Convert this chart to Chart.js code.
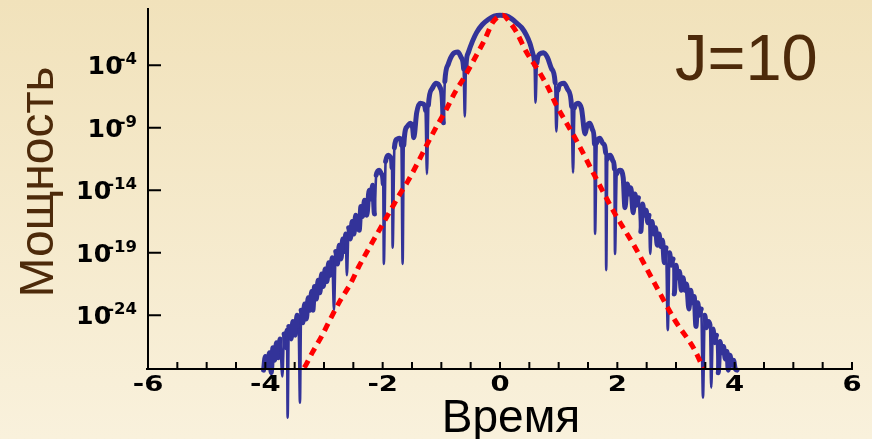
<!DOCTYPE html>
<html>
<head>
  <title>Мощность J=10</title>
  <script src="https://cdn.jsdelivr.net/npm/chart.js"></script>
  <style>
    body { margin: 0; }
    #chart { display: block; background: linear-gradient(#f1e2bb, #f9f1dc); }
  </style>
</head>
<body>
  <canvas id="chart" width="872" height="439"></canvas>
  <script>
    // blue curve: time and log10 of power
    const blueTime = [
      -4.03, -4.00, -3.96, -3.93, -3.90, -3.87, -3.84, -3.81, -3.78, -3.75, -3.71, -3.68, -3.65, -3.63,
      -3.62, -3.60, -3.56, -3.53, -3.49, -3.46, -3.43, -3.41, -3.39, -3.36, -3.33, -3.30, -3.27, -3.24,
      -3.21, -3.19, -3.16, -3.13, -3.10, -3.07, -3.04, -3.01, -2.98, -2.95, -2.92, -2.89, -2.86, -2.83,
      -2.80, -2.77, -2.74, -2.71, -2.68, -2.65, -2.63, -2.61, -2.58, -2.55, -2.52, -2.49, -2.46, -2.43,
      -2.40, -2.37, -2.34, -2.31, -2.27, -2.23, -2.20, -2.17, -2.14,
      -2.11, -2.06, -2.02, -1.99, -1.98, -1.95, -1.90, -1.86, -1.84, -1.83, -1.80, -1.75, -1.71, -1.68,
      -1.66, -1.64, -1.58, -1.53, -1.49, -1.47, -1.42, -1.36, -1.31, -1.27, -1.245, -1.22, -1.16, -1.09,
      -1.02, -0.985, -0.965, -0.94, -0.88, -0.80, -0.72, -0.66, -0.62, -0.60, -0.58, -0.54, -0.47, -0.40,
      -0.30, -0.20, -0.10, 0.00,
      0.10, 0.20, 0.30, 0.37, 0.45, 0.51, 0.56, 0.59, 0.605, 0.63, 0.68, 0.74, 0.81, 0.88, 0.94, 0.96,
      0.99, 1.04, 1.09, 1.16, 1.22, 1.245, 1.27, 1.33, 1.39, 1.45, 1.48, 1.53, 1.58, 1.61, 1.62, 1.65,
      1.70, 1.76, 1.80, 1.81, 1.83, 1.88, 1.93, 1.95, 1.96, 1.99, 2.05, 2.10,
      2.13, 2.17, 2.20, 2.23, 2.27, 2.30, 2.33, 2.36, 2.40, 2.43, 2.46, 2.49, 2.52, 2.54, 2.56, 2.59,
      2.62, 2.65, 2.68, 2.71, 2.74, 2.77, 2.80, 2.83, 2.86, 2.89, 2.92, 2.95, 2.97, 3.00, 3.03, 3.06,
      3.09, 3.12, 3.15, 3.18, 3.22, 3.25, 3.28, 3.31, 3.34, 3.37, 3.40, 3.43, 3.46, 3.49, 3.52, 3.55,
      3.58, 3.60, 3.63, 3.66, 3.69, 3.72, 3.75, 3.78, 3.81, 3.84, 3.87, 3.89, 3.92, 3.95, 3.98, 4.01,
      4.04
    ];
    const bluePowerExp = [
      -28.4, -27.3, -28.2, -27.0, -28.6, -26.6, -27.6, -26.2, -27.4, -25.9, -28.9, -25.5, -26.6, -25.2,
      -32.2, -24.9, -25.9, -24.5, -25.6, -24.0, -25.2, -31.0, -23.6, -24.6, -23.1, -24.3, -22.6, -23.6,
      -22.1, -23.6, -21.7, -22.7, -21.2, -22.2, -20.7, -21.7, -20.3, -21.3, -19.8, -20.8, -19.4, -23.6,
      -18.9, -19.9, -18.4, -19.5, -17.9, -18.9, -17.5, -20.8, -17.0, -17.9, -16.5, -17.5, -16.0, -16.9,
      -17.2, -15.3, -16.1, -14.8, -16.0, -14.0, -14.7, -13.6, -15.9,
      -12.8, -12.4, -12.7, -13.5, -19.9, -11.7, -11.2, -11.4, -12.2, -18.6, -10.6, -9.9, -9.85, -10.4,
      -19.9, -10.4, -8.9, -8.65, -9.0, -9.8, -7.8, -7.05, -7.1, -7.6, -12.7, -7.2, -5.9, -5.45,
      -5.8, -6.6, -8.6, -5.3, -3.9, -3.1, -2.95, -3.4, -4.3, -8.1, -4.1, -3.0, -2.1, -1.4,
      -0.75, -0.35, -0.08, 0.0,
      -0.05, -0.3, -0.7, -1.0, -1.6, -2.25, -3.1, -4.0, -7.0, -3.8, -3.1, -3.0, -3.4, -4.3, -5.4, -9.3,
      -6.0, -5.5, -5.45, -6.0, -7.3, -12.6, -7.4, -7.05, -7.5, -9.5, -8.9, -8.65, -9.2, -10.3, -17.5, -10.2,
      -9.85, -10.3, -11.0, -20.4, -11.5, -11.2, -11.7, -12.3, -19.1, -12.7, -12.4, -13.0,
      -15.4, -13.5, -14.3, -13.8, -15.8, -14.3, -15.2, -14.6, -17.3, -15.1, -16.0, -15.6, -16.6, -16.0, -19.1, -16.5,
      -17.5, -17.0, -18.4, -17.5, -18.5, -18.0, -19.8, -18.6, -25.2, -19.0, -20.0, -19.5, -22.3, -20.0, -21.0, -20.5,
      -22.0, -21.0, -22.0, -21.5, -23.5, -22.0, -23.0, -22.5, -24.9, -23.0, -24.0, -23.5, -30.6, -24.0, -25.0, -24.5,
      -24.8, -29.8, -25.1, -26.2, -25.6, -28.6, -26.1, -27.0, -26.5, -27.5, -26.9, -28.4, -27.2, -28.0, -27.6, -28.3,
      -28.4
    ];

    // red dashed curve
    const redTime = [
      -3.50, -3.35, -3.20, -3.03, -2.89, -2.72, -2.55, -2.41, -2.24, -2.07, -1.90, -1.73, -1.56,
      -1.39, -1.25, -1.08, -0.91, -0.77, -0.60, -0.43, -0.26, -0.12, 0.05, 0.17, 0.28, 0.45,
      0.65, 0.82, 0.96, 1.13, 1.30, 1.62, 1.96, 2.30, 2.64, 2.98, 3.32, 3.46, 3.55
    ];
    const redPowerExp = [
      -29.0, -28.3, -27.0, -25.6, -24.3, -22.8, -21.5, -20.15, -18.7, -17.3, -15.9, -14.5, -13.2,
      -11.7, -10.4, -8.9, -7.5, -6.2, -4.9, -3.45, -1.95, -0.55, 0.0, -0.6, -1.35, -2.95,
      -4.4, -5.8, -7.2, -8.6, -10.0, -12.9, -15.9, -18.55, -21.5, -24.4, -26.8, -28.2, -29.0
    ];

    const xTickLabels = [-6, -4, -2, 0, 2, 4, 6];
    const yTickExps = [-4, -9, -14, -19, -24];

    const toPoints = (t, e) => t.map((v, i) => ({ x: v, y: Math.pow(10, e[i]) }));

    function stretchText(ctx, text, x, y, align, sx) {
      ctx.save();
      ctx.translate(x, y);
      ctx.scale(sx, 1);
      ctx.textAlign = align;
      ctx.fillText(text, 0, 0);
      ctx.restore();
    }

    // thin the steep drops into the nulls
    function spikeWidth(c) {
      const d = Math.abs(Math.log10(c.p0.parsed.y) - Math.log10(c.p1.parsed.y));
      return d > 2.6 ? 2.6 : 5;
    }

    // axes, ticks and texts are drawn by hand on top of the plot
    const axesPlugin = {
      id: 'axes',
      afterDatasetsDraw(chart) {
        const { ctx, chartArea: a, scales } = chart;
        const xs = scales.x, ys = scales.y;
        ctx.save();
        ctx.strokeStyle = '#000';
        ctx.lineWidth = 2;
        ctx.beginPath();
        ctx.moveTo(a.left, a.top);
        ctx.lineTo(a.left, a.bottom);
        ctx.moveTo(a.left - 2, a.bottom);
        ctx.lineTo(a.right + 1, a.bottom);
        for (let v = -6; v <= 6.001; v += 0.5) {
          const px = xs.getPixelForValue(v);
          ctx.moveTo(px, a.bottom);
          ctx.lineTo(px, a.bottom - 7);
        }
        yTickExps.forEach(e => {
          const py = ys.getPixelForValue(Math.pow(10, e));
          ctx.moveTo(a.left, py);
          ctx.lineTo(a.left + 13, py);
        });
        ctx.stroke();

        ctx.fillStyle = '#000';
        ctx.textBaseline = 'alphabetic';
        ctx.font = 'bold 22px "DejaVu Sans"';
        xTickLabels.forEach(v => {
          stretchText(ctx, String(v), xs.getPixelForValue(v), a.bottom + 22, 'center', 1.25);
        });

        yTickExps.forEach(e => {
          const py = ys.getPixelForValue(Math.pow(10, e));
          const sup = String(e);
          ctx.font = 'bold 15px "DejaVu Sans"';
          const w = ctx.measureText(sup).width * 1.1;
          stretchText(ctx, sup, 137, py - 1, 'right', 1.1);
          ctx.font = 'bold 24px "DejaVu Sans"';
          stretchText(ctx, '10', 137 - w + 4, py + 9, 'right', 1.05);
        });

        ctx.font = '46px "Liberation Sans", Arial, sans-serif';
        ctx.textAlign = 'center';
        ctx.fillText('Время', 511, 432);

        ctx.fillStyle = '#4d2a0a';
        ctx.font = '65px "Liberation Sans", Arial, sans-serif';
        ctx.textAlign = 'left';
        ctx.fillText('J=10', 675, 80);

        ctx.save();
        ctx.translate(53, 182);
        ctx.rotate(-Math.PI / 2);
        ctx.font = '48px "Liberation Sans", Arial, sans-serif';
        ctx.textAlign = 'center';
        ctx.fillText('Мощность', 0, 0);
        ctx.restore();

        ctx.restore();
      }
    };

    new Chart(document.getElementById('chart'), {
      type: 'line',
      data: {
        datasets: [{
          label: 'red',
          data: toPoints(redTime, redPowerExp),
          borderColor: '#ff0000',
          borderWidth: 5,
          borderDash: [8, 6],
          pointRadius: 0,
          fill: false,
          cubicInterpolationMode: 'monotone'
        }, {
          label: 'blue',
          data: toPoints(blueTime, bluePowerExp),
          borderColor: '#333399',
          borderWidth: 5,
          borderCapStyle: 'round',
          borderJoinStyle: 'round',
          segment: { borderWidth: spikeWidth },
          pointRadius: 0,
          fill: false,
          clip: false,
          cubicInterpolationMode: 'monotone'
        }]
      },
      options: {
        responsive: false,
        animation: false,
        devicePixelRatio: 1,
        layout: { padding: { left: 148, right: 20, top: 8, bottom: 70 } },
        plugins: { legend: { display: false }, tooltip: { enabled: false } },
        scales: {
          x: { type: 'linear', min: -6, max: 6, display: false },
          y: { type: 'logarithmic', min: Math.pow(10, -28.31), max: Math.pow(10, 0.57), display: false }
        }
      },
      plugins: [axesPlugin]
    });
  </script>
</body>
</html>
